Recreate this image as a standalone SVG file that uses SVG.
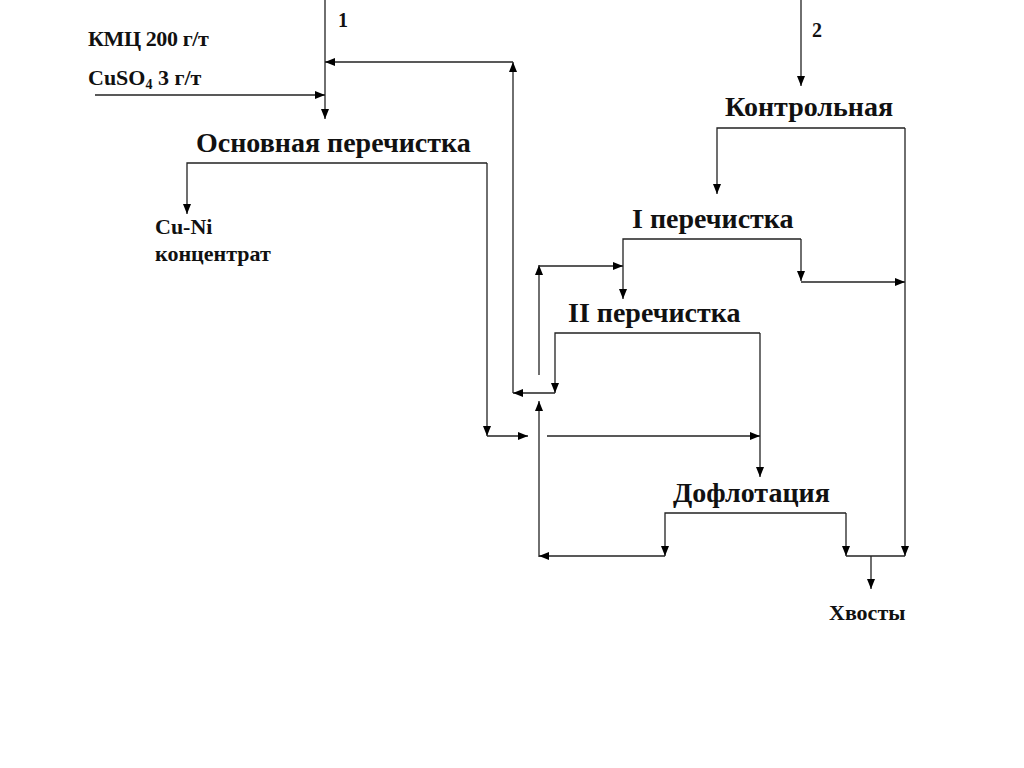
<svg xmlns="http://www.w3.org/2000/svg" width="1024" height="768" viewBox="0 0 1024 768">
<defs>
<marker id="ah" viewBox="0 0 10 8" refX="10" refY="4" markerWidth="10" markerHeight="8" markerUnits="userSpaceOnUse" orient="auto">
<path d="M0,0 L10,4 L0,8 Z" fill="#000"/>
</marker>
</defs>
<style>
.c{fill:none;stroke:#222;stroke-width:1.3}
.a{fill:none;stroke:#222;stroke-width:1.3;marker-end:url(#ah)}
.t{font-family:"Liberation Serif","Times New Roman",serif;font-weight:bold;fill:#111}
.big{font-size:28px}
.sm{font-size:22px}
.num{font-size:20px}
</style>
<rect width="1024" height="768" fill="#fff"/>
<g id="connectors">
<line class="a" x1="325" y1="0" x2="325" y2="119"/>
<line class="a" x1="95" y1="95" x2="325" y2="95"/>
<line class="a" x1="513" y1="393" x2="513" y2="62"/>
<line class="a" x1="513" y1="62" x2="325" y2="62"/>
<polyline class="a" points="487,163 187,163 187,214"/>
<polyline class="a" points="487,163 487,436"/>
<line class="a" x1="487" y1="436" x2="528" y2="436"/>
<polyline class="a" points="539,375 539,265"/>
<line class="a" x1="539" y1="266" x2="623" y2="266"/>
<polyline class="a" points="801,239 623,239 623,299"/>
<polyline class="a" points="801,239 801,281"/>
<line class="a" x1="801" y1="282" x2="905" y2="282"/>
<polyline class="a" points="760,333 555,333 555,393"/>
<line class="a" x1="555" y1="393" x2="513" y2="393"/>
<line class="a" x1="539" y1="557" x2="539" y2="401"/>
<line class="a" x1="547" y1="436" x2="760" y2="436"/>
<polyline class="a" points="760,333 760,477"/>
<line class="a" x1="801" y1="0" x2="801" y2="86"/>
<polyline class="a" points="905,128 717,128 717,194"/>
<polyline class="a" points="905,128 905,556"/>
<polyline class="a" points="846,513 665,513 665,556"/>
<line class="a" x1="665" y1="556" x2="539" y2="556"/>
<polyline class="a" points="846,513 846,556"/>
<line class="c" x1="846" y1="556" x2="905" y2="556"/>
<line class="a" x1="871" y1="556" x2="871" y2="589"/>
</g>
<g id="labels">
<text class="t num" x="338" y="27">1</text>
<text class="t num" x="812" y="37">2</text>
<text class="t sm" x="88" y="46" letter-spacing="-0.4">КМЦ 200 г/т</text>
<text class="t sm" x="88" y="85">CuSO<tspan font-size="14" dy="4">4</tspan><tspan dy="-4"> 3 г/т</tspan></text>
</g>
<g id="node-osnovnaya"><text class="t big" x="196" y="152">Основная перечистка</text></g>
<g id="node-concentrate"><text class="t sm" x="155" y="234">Cu-Ni</text><text class="t sm" x="155" y="261">концентрат</text></g>
<g id="node-kontrolnaya"><text class="t big" x="725" y="116">Контрольная</text></g>
<g id="node-i"><text class="t big" x="632" y="228">I перечистка</text></g>
<g id="node-ii"><text class="t big" x="568" y="322">II перечистка</text></g>
<g id="node-doflotatsiya"><text class="t big" x="673" y="502">Дофлотация</text></g>
<g id="node-tails"><text class="t sm" x="829" y="620">Хвосты</text></g>
</svg>
